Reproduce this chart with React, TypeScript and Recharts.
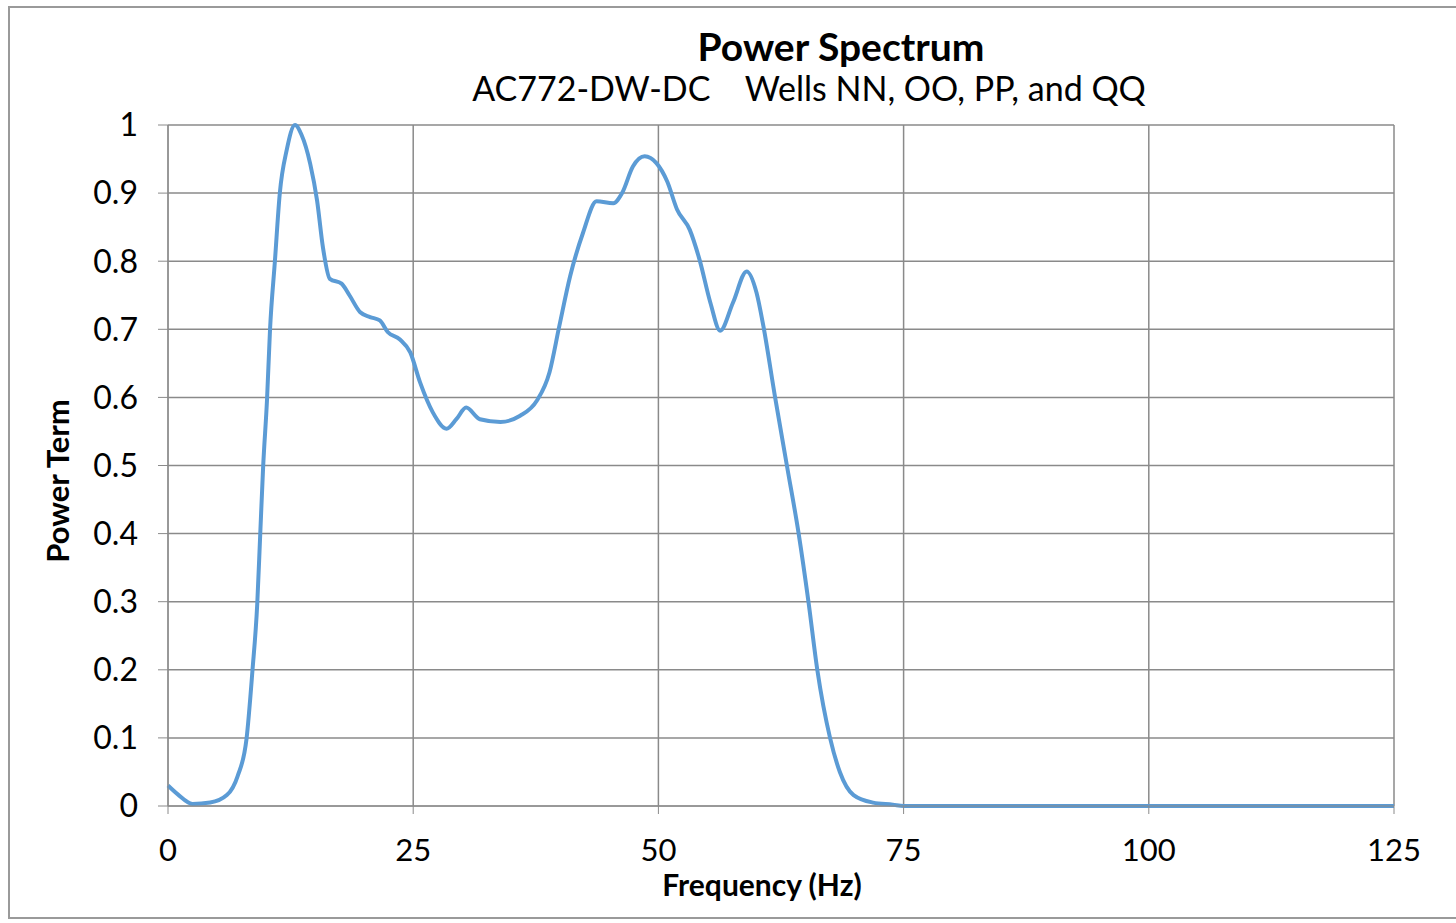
import * as React from "react";
import {CartesianGrid, Label, Line, LineChart, XAxis, YAxis} from "recharts";

// frequency (Hz) and normalised power
const freqHz = [0, 1, 2.5, 4.3, 6, 7.1, 8, 8.6, 9.1, 9.4, 9.7, 10.1, 10.4, 10.9, 11.4, 12.1, 12.95, 13.6, 14.5,
    15.2, 15.8, 16.5, 17.7, 18.5, 19.6, 20.6, 21.6, 22.4, 23.65, 24.7, 25.7, 27, 28.4, 29.4, 30.4, 31.8, 33.9,
    35.9, 37.6, 38.9, 39.9, 41, 42.3, 43.7, 45.4, 46.3, 47.4, 48.6, 49.8, 50.9, 51.9, 53.2, 54.2, 55.3, 56.3,
    57.6, 59, 60, 60.7, 61.9, 63.1, 64.3, 65.3, 66.2, 67.5, 68.5, 69.9, 71.9, 73.9, 75, 80, 90, 100, 110, 120, 125];
const powerTerm = [0.03, 0.017, 0.003, 0.005, 0.016, 0.044, 0.098, 0.197, 0.297, 0.398, 0.498, 0.598, 0.699, 0.8,
    0.9, 0.963, 1.0, 0.986, 0.943, 0.889, 0.82, 0.774, 0.767, 0.75, 0.725, 0.718, 0.713, 0.696, 0.685, 0.666, 0.622,
    0.578, 0.554, 0.568, 0.585, 0.568, 0.564, 0.573, 0.595, 0.637, 0.705, 0.778, 0.841, 0.888, 0.885, 0.9, 0.939,
    0.954, 0.944, 0.917, 0.876, 0.846, 0.802, 0.739, 0.698, 0.739, 0.785, 0.754, 0.705, 0.6, 0.5, 0.4, 0.3, 0.2,
    0.1, 0.05, 0.016, 0.005, 0.002, 0, 0, 0, 0, 0, 0, 0];

const xTicks = [0, 25, 50, 75, 100, 125];
const yTicks = [0, 0.1, 0.2, 0.3, 0.4, 0.5, 0.6, 0.7, 0.8, 0.9, 1];

const data = freqHz.map((f, i) => ({f, p: powerTerm[i]}));

const FONT = "Lato, 'Open Sans', sans-serif";
const GRID = "#8a8a8a";

export default function App() {
    return (
        <div style={{position: "absolute", left: 0, top: 0, width: 1456, height: 923, background: "#fff", fontFamily: FONT}}>
            <div style={{position: "absolute", left: 8, top: 6, width: 1460, height: 909, border: "2px solid #9a9a9a"}}/>
            <div style={{position: "absolute", left: 0, width: 1682, top: 27, textAlign: "center", fontSize: 39, fontWeight: 700, color: "#000", lineHeight: "39px"}}>
                Power Spectrum
            </div>
            <div style={{position: "absolute", left: 0, width: 1618, top: 71, textAlign: "center", fontSize: 34, color: "#000", lineHeight: "34px", whiteSpace: "pre"}}>
                {"AC772-DW-DC    Wells NN, OO, PP, and QQ"}
            </div>
            <div style={{position: "absolute", left: 0, top: 0}}>
                <LineChart width={1456} height={923} data={data}
                           margin={{top: 125, right: 62, bottom: 57, left: 68}}>
                    <CartesianGrid stroke={GRID} strokeWidth={1.5} horizontalValues={yTicks} verticalValues={xTicks}/>
                    <XAxis type="number" dataKey="f" domain={[0, 125]} ticks={xTicks} interval={0} height={60}
                           stroke={GRID} tickSize={8} tickMargin={25}
                           tick={{fill: "#000", fontSize: 31, fontFamily: FONT}}>
                        <Label content={() => (
                            <text x={762} y={896} textAnchor="middle" fontSize={30} fontWeight={700} fontFamily={FONT} fill="#000">
                                Frequency (Hz)
                            </text>
                        )}/>
                    </XAxis>
                    <YAxis type="number" domain={[0, 1]} ticks={yTicks} interval={0} width={100}
                           stroke={GRID} tickSize={10} tickMargin={20}
                           tick={{fill: "#000", fontSize: 32, fontFamily: FONT}}>
                        <Label content={() => (
                            <text x={69} y={481} textAnchor="middle" fontSize={31} fontWeight={700} fontFamily={FONT} fill="#000"
                                  transform="rotate(-90 69 481)">
                                Power Term
                            </text>
                        )}/>
                    </YAxis>
                    <Line type="monotone" dataKey="p" stroke="#5b9bd5" strokeWidth={4} dot={false} isAnimationActive={false}/>
                </LineChart>
            </div>
        </div>
    );
}
